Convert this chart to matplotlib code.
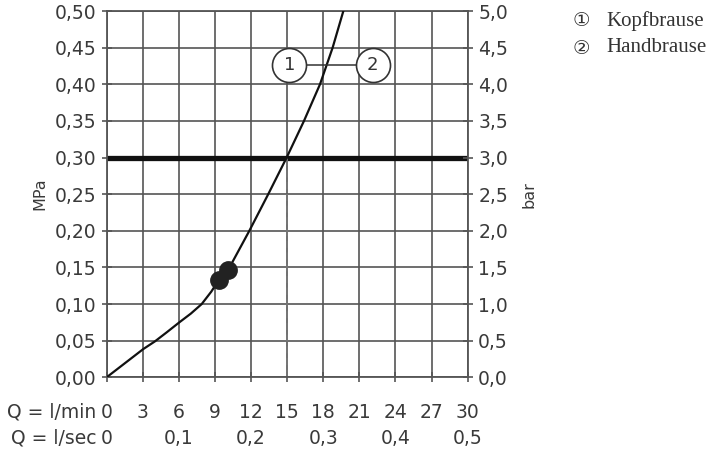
import matplotlib
matplotlib.use("Agg")
import matplotlib.pyplot as plt
import matplotlib.transforms as mtransforms

# Daten
flow_lmin = [0, 3, 6, 9, 12, 15, 18, 21, 24, 27, 30]
flow_lsec_pos = [0, 6, 12, 18, 24, 30]
flow_lsec_lbl = ["0", "0,1", "0,2", "0,3", "0,4", "0,5"]
mpa_ticks = [0.00, 0.05, 0.10, 0.15, 0.20, 0.25, 0.30, 0.35, 0.40, 0.45, 0.50]
mpa_lbl = ["0,00", "0,05", "0,10", "0,15", "0,20", "0,25", "0,30", "0,35", "0,40", "0,45", "0,50"]
bar_lbl = ["0,0", "0,5", "1,0", "1,5", "2,0", "2,5", "3,0", "3,5", "4,0", "4,5", "5,0"]

curve_q = [0, 3.04, 4.01, 5.0, 6.0, 7.0, 7.9, 8.7, 9.33, 10.1, 11.86, 13.43, 14.96, 16.4, 17.73, 18.78, 19.67]
curve_p = [0, 0.0385, 0.049, 0.0615, 0.0745, 0.087, 0.100, 0.117, 0.133, 0.1466, 0.20, 0.25, 0.30, 0.35, 0.40, 0.45, 0.50]

marker_q = [9.33, 10.1]
marker_p = [0.133, 0.1466]

ref_q = 15
ref_p = 0.30

label_q = [15.18, 22.1]
label_p = 0.4257
label_txt = ["1", "2"]

legend_items = [("\u2460", "Kopfbrause"), ("\u2461", "Handbrause")]

GRID = "#555555"
TXT = "#3a3a3a"
FS = 13.5

fig = plt.figure(figsize=(7.2, 4.53), dpi=100)
ax = fig.add_axes([0.148, 0.167, 0.5016, 0.8087])

ax.set_xlim(0, 30)
ax.set_ylim(0, 0.5)
ax.set_xticks(flow_lmin)
ax.set_xticklabels([])
ax.set_yticks(mpa_ticks)
ax.set_yticklabels(mpa_lbl)
ax.grid(True, color=GRID, linewidth=1.2, zorder=0)
ax.set_axisbelow(True)
for s in ax.spines.values():
    s.set_color(GRID)
    s.set_linewidth(1.3)
ax.tick_params(axis="both", direction="inout", length=7, width=1.2, color=GRID,
               labelsize=FS, labelcolor=TXT, pad=4)
ax.set_ylabel("MPa", fontsize=11.5, color=TXT, labelpad=5)

ax2 = ax.twinx()
ax2.set_ylim(0, 5)
ax2.set_yticks([t * 10 for t in mpa_ticks])
ax2.set_yticklabels(bar_lbl)
ax2.tick_params(axis="y", direction="inout", length=7, width=1.2, color=GRID,
                labelsize=FS, labelcolor=TXT, pad=4)
ax2.set_ylabel("bar", fontsize=11.5, color=TXT, rotation=90, labelpad=10)
for s in ax2.spines.values():
    s.set_visible(False)

# Referenzlinien
ax.axhline(ref_p, color="#111111", linewidth=3.8, zorder=2)
ax.plot([ref_q, ref_q], [0, ref_p], color="#777777", linewidth=1.3,
        linestyle=(0, (4, 2.5)), zorder=2)

# Kennlinie
ax.plot(curve_q, curve_p, color="#111111", linewidth=1.6, zorder=3,
        solid_joinstyle="round")
ax.plot(marker_q, marker_p, "o", color="#222222", markersize=12.5, zorder=4)

# Kreis-Beschriftungen 1 / 2
ax.plot(label_q, [label_p, label_p], color="#333333", linewidth=1.1, zorder=4)
for q, t in zip(label_q, label_txt):
    ax.plot([q], [label_p], "o", markersize=24.5, markerfacecolor="white",
            markeredgecolor="#333333", markeredgewidth=1.2, zorder=5)
    ax.text(q, label_p, t, ha="center", va="center", fontsize=13, color="#333333", zorder=6)

# Durchfluss-Beschriftungen unten
trans = mtransforms.blended_transform_factory(ax.transData, ax.transAxes)
ax.text(-0.83, -0.095, "Q = l/min", transform=trans, ha="right", va="center",
        fontsize=FS, color=TXT)
ax.text(-0.83, -0.166, "Q = l/sec", transform=trans, ha="right", va="center",
        fontsize=FS, color=TXT)
for q in flow_lmin:
    ax.text(q, -0.095, str(q), transform=trans, ha="center", va="center",
            fontsize=FS, color=TXT)
for q, t in zip(flow_lsec_pos, flow_lsec_lbl):
    ax.text(q, -0.166, t, transform=trans, ha="center", va="center",
            fontsize=FS, color=TXT)

# Legende
for i, (sym, name) in enumerate(legend_items):
    y = 1 - (21 + 27 * i) / 453
    fig.text(581 / 720, y, sym, ha="center", va="center", fontsize=14,
             family=["DejaVu Sans"], color="#333333")
    fig.text(606 / 720, y, name, ha="left", va="center", fontsize=15,
             family=["Liberation Serif", "DejaVu Sans"], color="#333333")

fig.savefig("out.png", dpi=100)
